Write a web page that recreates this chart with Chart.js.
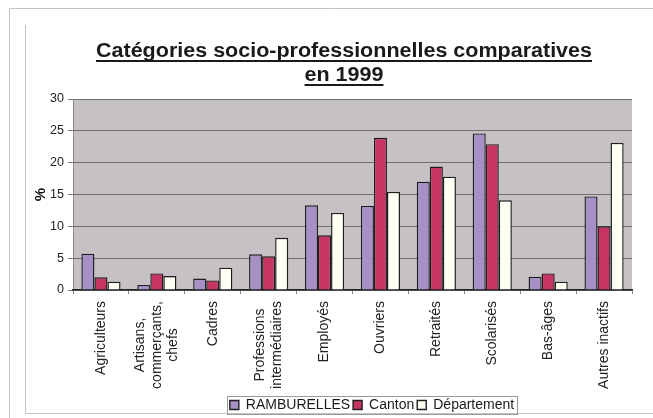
<!DOCTYPE html>
<html>
<head>
<meta charset="utf-8">
<script src="https://cdn.jsdelivr.net/npm/chart.js@4.4.0/dist/chart.umd.min.js"></script>
<style>
  html, body { margin: 0; padding: 0; background: #fff; }
  #wrap { position: relative; width: 653px; height: 418px; }
</style>
</head>
<body>
<div id="wrap"><canvas id="csp" width="653" height="418"></canvas></div>
<script>
// categories + values (%)
const categories = [
  'Agriculteurs',
  ['Artisans,', 'commerçants,', 'chefs'],
  'Cadres',
  ['Professions', 'intermédiaires'],
  'Employés',
  'Ouvriers',
  'Retraités',
  'Scolarisés',
  'Bas-âges',
  'Autres inactifs'
];
const ramburelles = [5.7, 0.8, 1.8, 5.6, 13.3, 13.2, 17.0, 24.6, 2.1, 14.7];
const canton      = [2.0, 2.6, 1.5, 5.3, 8.6, 23.9, 19.4, 22.9, 2.6, 10.0];
const departement = [1.3, 2.2, 3.5, 8.2, 12.1, 15.4, 17.8, 14.1, 1.3, 23.1];
const yTicks = [0, 5, 10, 15, 20, 25, 30];

const titleLines = ['Catégories socio-professionnelles comparatives', 'en 1999'];
const FONT = '"Liberation Sans", Arial, sans-serif';

// frame lines, grey plot background, underlined title, legend box, x labels
const decor = {
  id: 'decor',
  afterLayout(chart) {
    // legend sits right of centre and a little lower in the original
    const lg = chart.legend;
    if (!lg) return;
    lg.left += 41; lg.right += 41;
    lg.top += 6; lg.bottom += 6;
  },
  beforeDraw(chart) {
    const c = chart.ctx, a = chart.chartArea;
    c.save();
    c.fillStyle = '#fff';
    c.fillRect(0, 0, chart.width, chart.height);
    c.strokeStyle = '#c4c4c4';
    c.lineWidth = 1;
    c.beginPath();
    c.moveTo(9.5, 418); c.lineTo(9.5, 8.5); c.lineTo(653, 8.5);
    c.moveTo(25.5, 25); c.lineTo(25.5, 413.5); c.lineTo(653, 413.5);
    c.stroke();
    c.fillStyle = '#c5c1c5';
    c.fillRect(a.left, a.top, a.right - a.left, a.bottom - a.top);
    c.restore();
  },
  afterDraw(chart) {
    const c = chart.ctx;
    c.save();
    c.font = 'bold 20px ' + FONT;
    c.fillStyle = '#1a1a1a';
    c.strokeStyle = '#1a1a1a';
    c.textAlign = 'center';
    c.textBaseline = 'alphabetic';
    // the scan is a bit wider than tall: stretch the title to its width
    const sx = 496 / c.measureText(titleLines[0]).width;
    titleLines.forEach((t, i) => {
      const y = 57 + i * 24;
      const w = c.measureText(t).width * sx;
      c.save();
      c.translate(344, y);
      c.scale(sx, 1);
      c.fillText(t, 0, 0);
      c.restore();
      c.lineWidth = 1.8;
      c.beginPath();
      c.moveTo(344 - w / 2, y + 4);
      c.lineTo(344 + w / 2, y + 4);
      c.stroke();
    });

    // category labels: vertical, lines centred on the tick like Excel does
    const xs = chart.scales.x;
    c.font = '14px ' + FONT;
    c.fillStyle = '#222';
    c.textAlign = 'center';
    c.textBaseline = 'middle';
    const lh = 16.5;
    categories.forEach((lab, i) => {
      const lines = Array.isArray(lab) ? lab : [lab];
      const maxW = Math.max(...lines.map(l => c.measureText(l).width));
      const px = xs.getPixelForTick(i);
      c.save();
      c.translate(px, xs.top + 11);
      c.rotate(-Math.PI / 2);
      lines.forEach((l, j) => {
        c.fillText(l, -maxW / 2, (j - (lines.length - 1) / 2) * lh);
      });
      c.restore();
    });

    // box round the legend
    const lg = chart.legend;
    if (lg && lg.legendHitBoxes.length) {
      const hb = lg.legendHitBoxes;
      const last = hb[hb.length - 1];
      const x0 = hb[0].left - 3, x1 = last.left + last.width + 3;
      const y0 = hb[0].top - 2, y1 = hb[0].top + hb[0].height + 2;
      c.strokeStyle = '#9a9a9a';
      c.lineWidth = 1;
      c.strokeRect(Math.round(x0) + 0.5, Math.round(y0) + 0.5, Math.round(x1 - x0), Math.round(y1 - y0));
    }
    c.restore();
  }
};

const barStyle = { borderColor: '#1e1e1e', borderWidth: 1.4, borderSkipped: 'bottom' };

new Chart(document.getElementById('csp'), {
  type: 'bar',
  data: {
    labels: categories,
    datasets: [
      Object.assign({ label: 'RAMBURELLES', data: ramburelles, backgroundColor: '#a690c6' }, barStyle),
      Object.assign({ label: 'Canton', data: canton, backgroundColor: '#c83462' }, barStyle),
      Object.assign({ label: 'Département', data: departement, backgroundColor: '#fffff4' }, barStyle)
    ]
  },
  options: {
    responsive: false,
    animation: false,
    datasets: { bar: { categoryPercentage: 0.7, barPercentage: 1.0 } },
    layout: { padding: { left: 30, right: 21, top: 99, bottom: 2 } },
    plugins: {
      title: { display: false },
      tooltip: { enabled: false },
      legend: {
        position: 'bottom',
        labels: {
          boxWidth: 9, boxHeight: 9, padding: 3,
          color: '#1a1a1a',
          font: { family: FONT, size: 14 }
        }
      }
    },
    scales: {
      y: {
        min: 0, max: 30,
        afterBuildTicks(s) { s.ticks = yTicks.map(v => ({ value: v })); },
        afterFit(s) { s.width = 43; },
        border: { display: true, color: '#8a8a8a' },
        grid: { color: '#6e6e6e', tickColor: '#777', tickLength: 5, lineWidth: 1 },
        ticks: { color: '#222', padding: 4, font: { family: FONT, size: 12.5 } },
        title: { display: true, text: '%', color: '#111', padding: { top: 2, bottom: 0 },
                 font: { family: FONT, size: 15, weight: 'bold' } }
      },
      x: {
        afterFit(s) { s.height = 99; },
        border: { display: true, color: '#222', width: 1.4 },
        grid: { offset: true, drawOnChartArea: false, tickLength: 4, color: '#888' },
        ticks: { display: false }
      }
    }
  },
  plugins: [decor]
});
</script>
</body>
</html>
